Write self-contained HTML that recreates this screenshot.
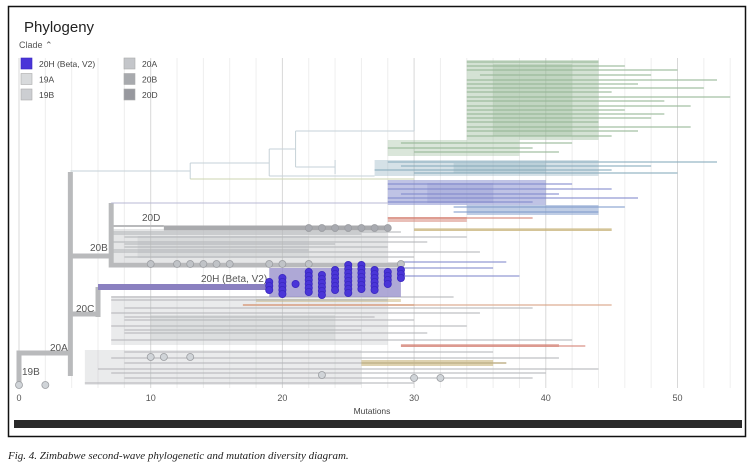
<!DOCTYPE html>
<html><head><meta charset="utf-8"><style>
body{margin:0;background:#fff;width:752px;height:467px;overflow:hidden;font-family:"Liberation Sans",sans-serif}
svg{display:block}
</style></head><body>
<svg id="chart" width="752" height="467" viewBox="0 0 752 467">
<rect x="8.5" y="6.5" width="737" height="430" fill="#fff" stroke="#111" stroke-width="1.5"/>
<text x="24" y="32" font-size="15" fill="#222">Phylogeny</text>
<text x="19" y="48" font-size="9" fill="#555">Clade ⌃</text>
<g id="grid"></g>
<g id="blocks"></g>
<g id="tips"></g>
<g id="tree"></g>
<g id="dots"></g>
<g id="legend"></g>
<g id="axis"></g>
<text x="372" y="414" font-size="8.5" fill="#444" text-anchor="middle">Mutations</text>
<rect x="14" y="420" width="728" height="8" fill="#2a2a2a"/>
<text x="8" y="459" font-size="11" font-style="italic" fill="#222" font-family="Liberation Serif, serif">Fig. 4. Zimbabwe second-wave phylogenetic and mutation diversity diagram.</text>
</svg>
<script>
const ticks=[0,10,20,30,40,50];
const legendNames=["20H (Beta, V2)","19A","19B","20A","20B","20D"];
const legendColors=["#4a35d8","#d8dadc","#ccced2","#c4c6ca","#a8aaae","#97989e"];
const cladeColor={g:"#94b694",t:"#86aabb",p:"#8088cc",b:"#7f9ccb",r:"#d47f72",y:"#c8b47a",o:"#d8a080",gr:"#b4b6b9",l:"#b8c8d0"};
// blocks: [m0,m1,yTop,yBot,clade,opacity]
const blocks=[[34,44,60,140,"g",0.4],[36,42,64,136,"g",0.3],[28,38,140,156,"g",0.35],[27,44,160,176,"t",0.35],[33,40,163,173,"t",0.3],
[28,40,180,205,"p",0.5],[31,36,183,203,"p",0.25],[34,44,205,215,"b",0.5],[28,34,217,222,"r",0.5],[30,45,228,231,"y",0.5],
[7,28,229,262,"gr",0.35],[9,22,236,258,"gr",0.25],[7,28,296,345,"gr",0.28],[10,24,315,340,"gr",0.25],[5,26,350,385,"gr",0.28],
[18,29,299,302,"y",0.5],[17,30,304,306,"o",0.5],[29,41,344,347,"r",0.55],[26,36,360,366,"y",0.6]];
// tips: [m0,m1,y,clade]
const tips=[[34,44,62,"g"],[34,46,66,"g"],[34,50,70,"g"],[35,48,75,"g"],[34,53,80,"g"],[34,47,84,"g"],[34,52,88,"g"],[34,45,92,"g"],[34,54,97,"g"],[34,49,101,"g"],
[34,51,106,"g"],[34,46,110,"g"],[34,49,114,"g"],[34,48,118,"g"],[34,44,122,"g"],[34,51,127,"g"],[34,47,131,"g"],[34,45,136,"g"],[29,42,143,"g"],[28,39,148,"g"],[30,41,152,"g"],
[28,53,162,"t"],[29,48,166,"t"],[27,45,170,"t"],[30,50,173,"t"],[28,42,184,"p"],[28,45,189,"p"],[29,41,194,"p"],[28,47,198,"p"],[28,39,202,"p"],
[33,46,207,"b"],[33,44,212,"b"],[28,39,218,"r"],[30,45,230,"y"],
[7,29,232,"gr"],[8,34,237,"gr"],[7,31,242,"gr"],[8,28,247,"gr"],[7,35,252,"gr"],[8,30,257,"gr"],[7,26,234,"gr"],[8,24,244,"gr"],[7,22,250,"gr"],[29,37,262,"p"],[29,36,268,"p"],[29,38,276,"p"],
[7,33,297,"gr"],[7,28,300,"gr"],[8,39,308,"gr"],[7,35,313,"gr"],[8,27,317,"gr"],[8,30,320,"gr"],[7,34,326,"gr"],[8,26,330,"gr"],[8,31,333,"gr"],[7,42,340,"gr"],[8,36,352,"gr"],[7,41,358,"gr"],[8,37,363,"gr"],[6,44,369,"gr"],[7,40,373,"gr"],[8,39,378,"gr"],[5,30,383,"gr"],
[17,45,305,"o"],[29,43,346,"r"],[26,37,363,"y"]];
const grayDotsB=[10,12,13,14,15,16,19,20,22,29];
const grayDotsD=[22,23,24,25,26,27,28];
const grayDotsLow=[[10,357],[11,357],[13,357],[23,375],[30,378],[32,378],[0,385],[2,385]];
const blueCols=[19,20,21,22,23,24,25,26,27,28,29];
const blueTop=[282,278,284,272,275,270,265,265,270,272,270];
const blueBot=[290,295,287,292,296,292,296,292,290,285,281];
const X=m=>19+m*13.17;
const NS="http://www.w3.org/2000/svg";
function mk(tag,parent,attrs){const e=document.createElementNS(NS,tag);for(const k in attrs)e.setAttribute(k,attrs[k]);parent.appendChild(e);return e;}
const grid=document.getElementById('grid');
for(let m=0;m<=54;m+=2){
  const l=mk('line',grid,{x1:X(m),x2:X(m),y1:58,y2:388,stroke:m%10===0?"#d8d8d8":"#eeeeee","stroke-width":1});
  
  
}
const axis=document.getElementById('axis');
ticks.forEach(t=>{const e=mk('text',axis,{x:X(t),y:401,"font-size":9,fill:"#555","text-anchor":"middle"});e.textContent=t;

});
const bg=document.getElementById('blocks');
blocks.forEach(b=>{const e=mk('rect',bg,{x:X(b[0]),y:b[2],width:X(b[1])-X(b[0]),height:b[3]-b[2],fill:cladeColor[b[4]],opacity:b[5]});

});
const tg=document.getElementById('tips');
tips.forEach(t=>{const e=mk('line',tg,{x1:X(t[0]),x2:X(t[1]),y1:t[2],y2:t[2],stroke:cladeColor[t[3]],"stroke-width":1.4,opacity:0.7});

});
const tr=document.getElementById('tree');
function path(d,c,w,name){const e=mk('path',tr,{d:d,stroke:c,"stroke-width":w,fill:"none"});

}
const G="#b9babc";
path(`M${X(0)},385 V353 H${X(3.9)}`,G,5,'root-branch-19b');
path(`M${X(3.9)},172 V376`,G,5,'branch-20a');
path(`M${X(3.9)},256 H${X(7)} M${X(7)},203 V265 H${X(29)}`,G,5,'branch-20b');
path(`M${X(7)},226 H${X(11)}`,G,2,'branch-20d-stem');
path(`M${X(11)},228 H${X(28)}`,"#a9aaad",5,'branch-20d');
path(`M${X(3.9)},314 H${X(6)} M${X(6)},287 V317`,G,5,'branch-20c');
path(`M${X(6)},287 H${X(19)}`,"#8a80c0",6,'branch-20h');
mk('rect',tr,{x:X(19),y:268,width:X(29)-X(19),height:29,fill:"#9a92cc",opacity:0.8});
path(`M${X(3.9)},171 H${X(13)} M${X(13)},163 V179 M${X(13)},163 H${X(19)} M${X(19)},149 V176 M${X(19)},149 H${X(21)} M${X(21)},131 V167 M${X(21)},131 H${X(30)} M${X(30)},100 V131 M${X(21)},167 H${X(24)} M${X(24)},160 V174 M${X(19)},176 H${X(27)}`,"#c6d2d8",1,'upper-connectors');
path(`M${X(13)},179 H${X(30)}`,"#cdd6b0",1,'olive-connector');
path(`M${X(7)},203 H${X(28)}`,"#b8b8d4",1,'purple-connector');
const dg=document.getElementById('dots');
function dot(m,y,fill,r){const e=mk('circle',dg,{cx:X(m),cy:y,r:r,fill:fill,stroke:fill==="#4a35d8"?"#3a28c0":"#9a9ca0","stroke-width":0.8});

}
grayDotsB.forEach(m=>dot(m,264,"#c0c3c7",3.5));
grayDotsD.forEach(m=>dot(m,228,"#a8aab0",3.5));
grayDotsLow.forEach(p=>dot(p[0],p[1],"#d0d4d8",3.5));
blueCols.forEach((m,i)=>{for(let y=blueTop[i];y<=blueBot[i];y+=4)dot(m,y,"#4a35d8",3.6);});
const lg=document.getElementById('legend');
legendNames.forEach((n,i)=>{const col=Math.floor(i/3),row=i%3;const x=col?124:21,y=58+row*15.5;
const r=mk('rect',lg,{x:x,y:y,width:11,height:11,fill:legendColors[i],stroke:i?"#aaa":"#3a28c0","stroke-width":0.6});


const t=mk('text',lg,{x:x+18,y:y+9,"font-size":8.5,fill:"#444"});t.textContent=n;

});
const labels=[["19B",22,375],["20A",50,351],["20B",90,251],["20D",142,221],["20C",76,312],["20H (Beta, V2)",201,282]];
labels.forEach(l=>{const e=mk('text',tr,{x:l[1],y:l[2],"font-size":10,fill:"#555"});e.textContent=l[0];

});
</script>
</body></html>
